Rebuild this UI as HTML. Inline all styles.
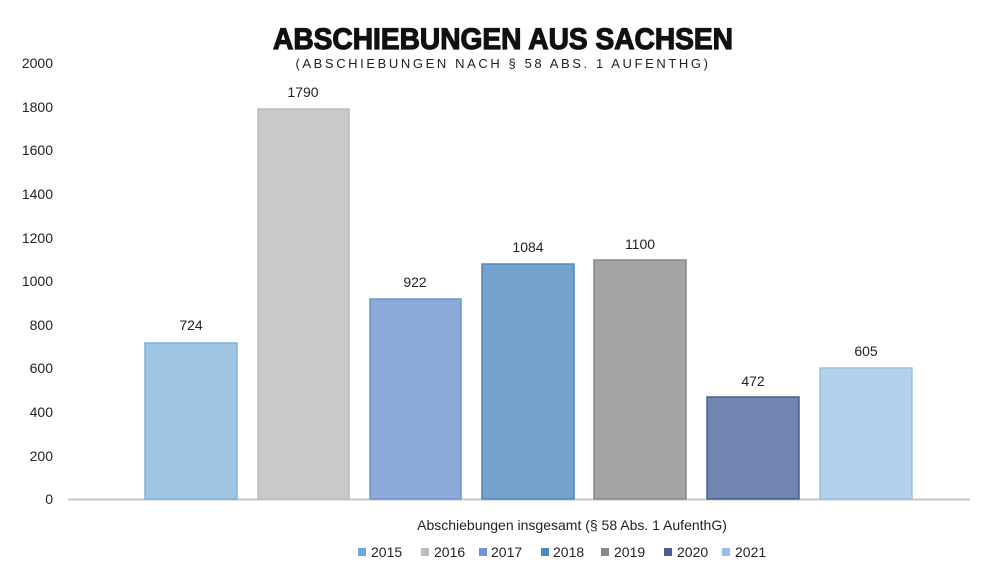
<!DOCTYPE html>
<html><head><meta charset="utf-8"><style>
body{margin:0;background:#fff;}
svg text{font-family:"Liberation Sans",sans-serif;}
</style></head><body>
<svg width="1000" height="582" viewBox="0 0 1000 582" xmlns="http://www.w3.org/2000/svg">
<text x="503" y="49" text-anchor="middle" font-size="30" font-weight="bold" fill="#111" stroke="#111" stroke-width="1.2" textLength="460" lengthAdjust="spacingAndGlyphs">ABSCHIEBUNGEN AUS SACHSEN</text>
<text x="503" y="68" text-anchor="middle" font-size="13" fill="#222" letter-spacing="2.6">(ABSCHIEBUNGEN NACH § 58 ABS. 1 AUFENTHG)</text>
<g font-size="14" fill="#222" text-anchor="end">
<text x="53" y="68">2000</text>
<text x="53" y="112">1800</text>
<text x="53" y="155">1600</text>
<text x="53" y="199">1400</text>
<text x="53" y="243">1200</text>
<text x="53" y="286">1000</text>
<text x="53" y="330">800</text>
<text x="53" y="373">600</text>
<text x="53" y="417">400</text>
<text x="53" y="461">200</text>
<text x="53" y="504">0</text>
</g>
<line x1="68" y1="499.5" x2="970" y2="499.5" stroke="#c8c8c8" stroke-width="2"/>
<g stroke-width="1.5">
<rect x="145" y="343" width="92" height="156" fill="#9fc5e4" stroke="#7fb0df"/>
<rect x="258" y="109" width="91" height="390" fill="#c9c9c9" stroke="#bdbdbd"/>
<rect x="370" y="299" width="91" height="200" fill="#8eaadb" stroke="#6f92d6"/>
<rect x="482" y="264" width="92" height="235" fill="#73a3cc" stroke="#4f84bd"/>
<rect x="594" y="260" width="92" height="239" fill="#a5a5a5" stroke="#888"/>
<rect x="707" y="397" width="92" height="102" fill="#6f85b2" stroke="#4a5f8e"/>
<rect x="820" y="368" width="92" height="131" fill="#b4d1ec" stroke="#98c0ea"/>
</g>
<g font-size="14" fill="#222" text-anchor="middle">
<text x="191" y="330">724</text>
<text x="303" y="97">1790</text>
<text x="415" y="287">922</text>
<text x="528" y="252">1084</text>
<text x="640" y="249">1100</text>
<text x="753" y="386">472</text>
<text x="866" y="356">605</text>
</g>
<text x="572" y="530" text-anchor="middle" font-size="14" fill="#222">Abschiebungen insgesamt (§ 58 Abs. 1 AufenthG)</text>
<g font-size="14" fill="#222">
<rect x="358" y="548" width="8" height="8" fill="#6fa6d8"/><text x="371" y="557">2015</text>
<rect x="421" y="548" width="8" height="8" fill="#bdbdbd"/><text x="434" y="557">2016</text>
<rect x="479" y="548" width="8" height="8" fill="#6f92d6"/><text x="491" y="557">2017</text>
<rect x="541" y="548" width="8" height="8" fill="#4f84bd"/><text x="553" y="557">2018</text>
<rect x="601" y="548" width="8" height="8" fill="#888"/><text x="614" y="557">2019</text>
<rect x="664" y="548" width="8" height="8" fill="#4a5f8e"/><text x="677" y="557">2020</text>
<rect x="722" y="548" width="8" height="8" fill="#98c0ea"/><text x="735" y="557">2021</text>
</g>
</svg>
</body></html>
